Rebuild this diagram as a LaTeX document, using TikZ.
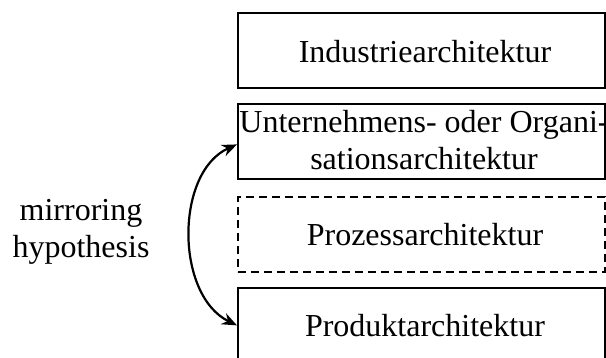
\documentclass[tikz,border=0pt]{standalone}
\usepackage{fontspec}
\setmainfont{Liberation Serif}
\usetikzlibrary{arrows.meta}

\tikzset{
  layer/.style={draw, line width=1.8pt, minimum width=367pt, minimum height=75pt,
                anchor=north west, inner sep=0pt},
  optional/.style={layer, line width=1.6pt, dash pattern=on 8pt off 5pt},
  caption/.style={font=\fontsize{32}{37}\selectfont, align=center, inner sep=0pt, anchor=base},
  mirror/.style={line width=2.2pt, {Stealth[length=15pt,width=12pt]}-{Stealth[length=15pt,width=12pt]}}
}

\begin{document}
\begin{tikzpicture}[x=1pt,y=1pt]
  \clip (0,0) rectangle (606,-358);

  % architecture layers
  \node[layer]    (ind)  at (237,-12)  {};
  \node[layer]    (org)  at (237,-103) {};
  \node[optional] (proc) at (237,-196) {};
  \node[layer]    (prod) at (237,-287) {};

  % layer names (multi-line captions are placed by their last baseline)
  \node[caption] (indt)  at (425,-63)  {Industriearchitektur};
  \node[caption] (orgt)  at (424,-170) {Unternehmens- oder Organi-\\sationsarchitektur};
  \node[caption] (proct) at (425,-246) {Prozessarchitektur};
  \node[caption] (prodt) at (425,-337) {Produktarchitektur};

  % mirroring relation between organisation and product
  \node[caption] (mir) at (81,-258) {mirroring\\hypothesis};
  \draw[mirror] ([yshift=-3pt]org.west) .. controls (175,-172) and (175,-295) .. (prod.west);
\end{tikzpicture}
\end{document}
